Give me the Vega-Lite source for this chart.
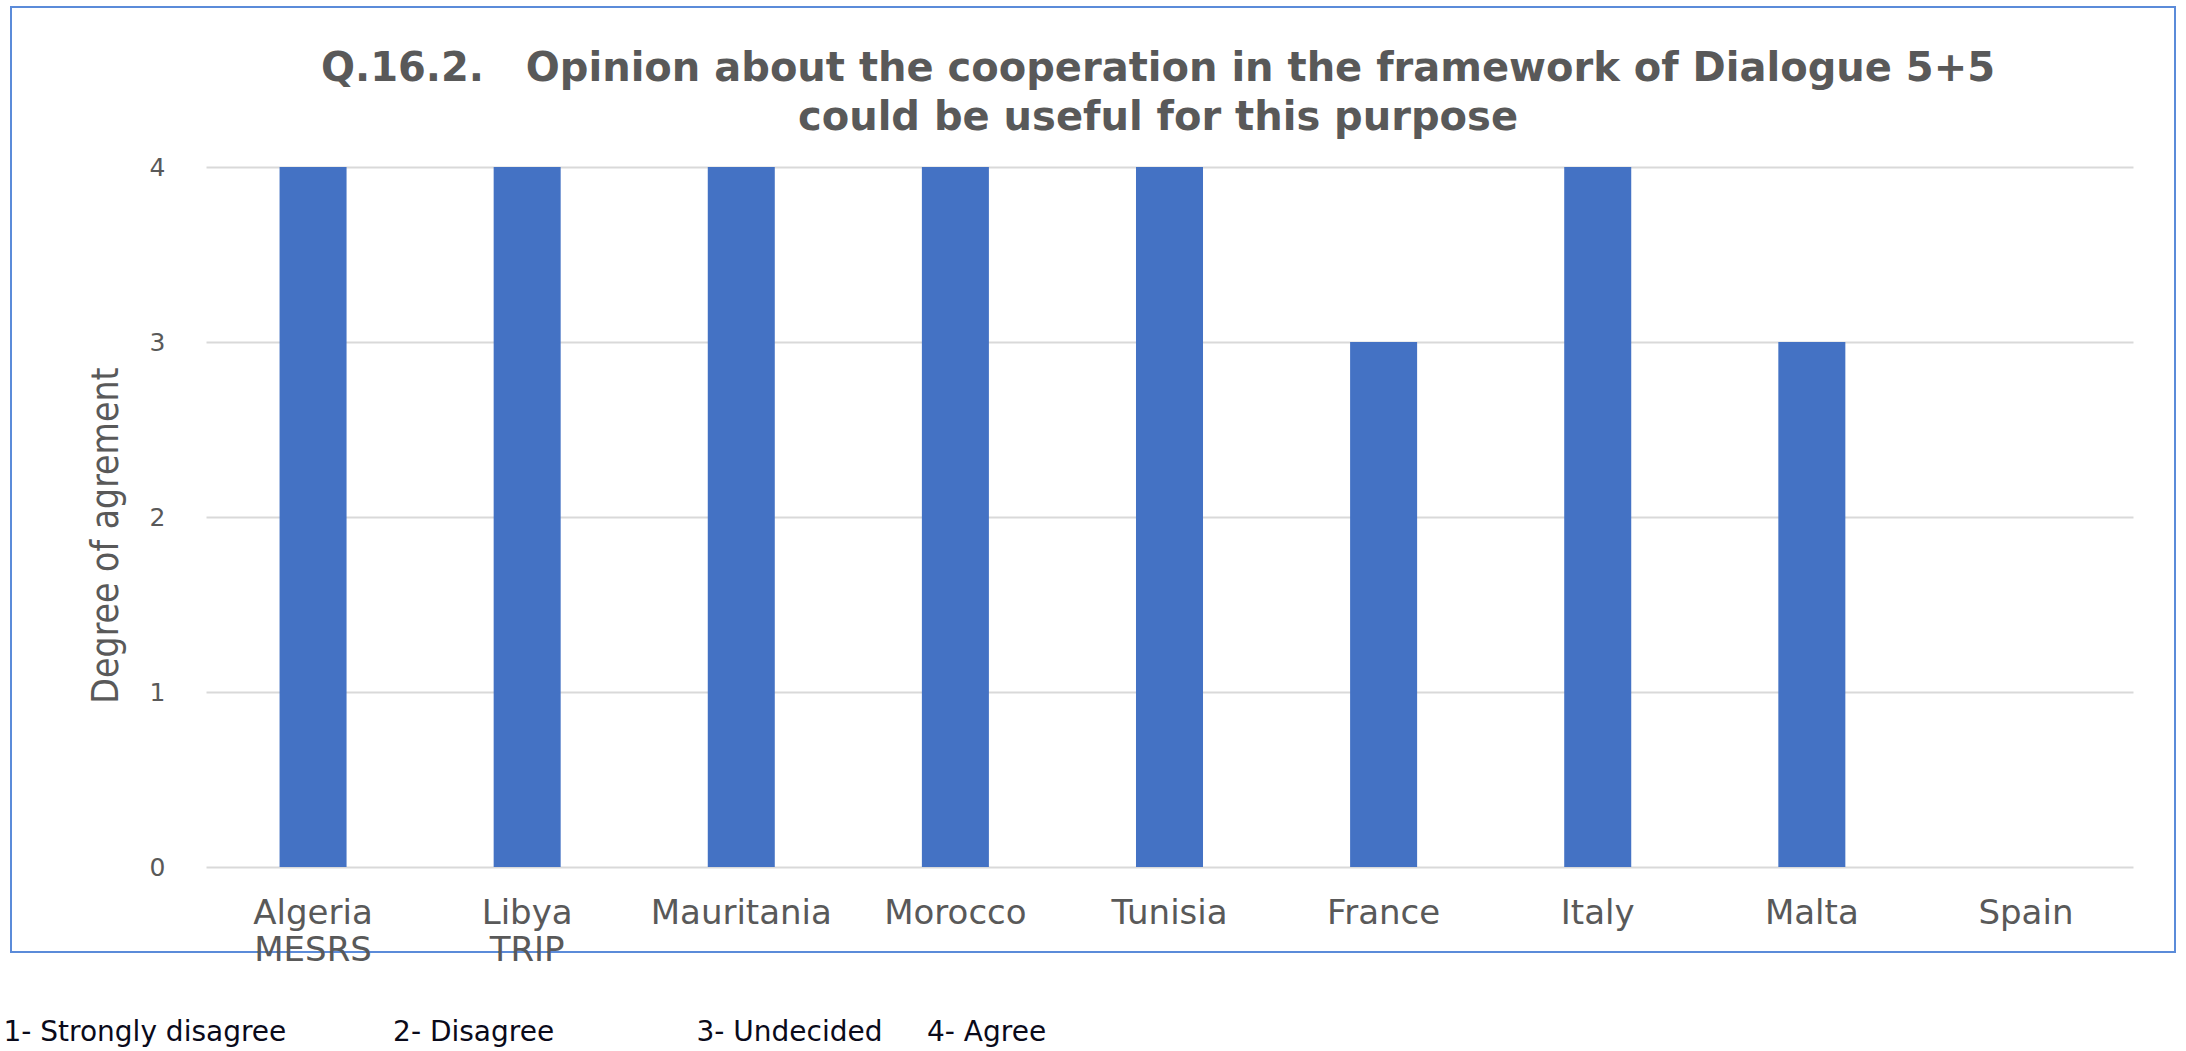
{
  "$schema": "https://vega.github.io/schema/vega-lite/v6.json",
  "width": 2164,
  "height": 945,
  "autosize": "none",
  "padding": {"left": 11, "top": 7, "right": 11, "bottom": 99},
  "background": "white",
  "title": {
    "text": ["Q.16.2.\u00a0\u00a0\u00a0Opinion about the cooperation in the framework of Dialogue 5+5", "could be useful for this purpose"],
    "font": "DejaVu Sans",
    "fontSize": 40,
    "fontWeight": "bold",
    "color": "#595959",
    "anchor": "middle",
    "frame": "group",
    "offset": -131,
    "dx": 65,
    "lineHeight": 49
  },
  "data": {
    "values": [
      {"country": "Algeria\nMESRS", "agreement": 4},
      {"country": "Libya\nTRIP", "agreement": 4},
      {"country": "Mauritania", "agreement": 4},
      {"country": "Morocco", "agreement": 4},
      {"country": "Tunisia", "agreement": 4},
      {"country": "France", "agreement": 3},
      {"country": "Italy", "agreement": 4},
      {"country": "Malta", "agreement": 3},
      {"country": "Spain", "agreement": null}
    ]
  },
  "mark": {"type": "bar", "color": "#4472C4"},
  "encoding": {
    "x": {
      "field": "country",
      "type": "nominal",
      "sort": null,
      "scale": {
        "domain": ["Algeria\nMESRS", "Libya\nTRIP", "Mauritania", "Morocco", "Tunisia", "France", "Italy", "Malta", "Spain"],
        "range": [195, 2122],
        "paddingInner": 0.687,
        "paddingOuter": 0.3435
      },
      "axis": {
        "orient": "bottom",
        "offset": -85,
        "domain": false,
        "ticks": false,
        "tickSize": 0,
        "grid": false,
        "labelAngle": 0,
        "labelLimit": 0,
        "labelOverlap": false,
        "labelExpr": "split(datum.label, '\\n')",
        "labelFont": "DejaVu Sans",
        "labelFontSize": 34,
        "labelColor": "#595959",
        "labelPadding": 29,
        "labelLineHeight": 37,
        "labelBaseline": "top",
        "title": "1- Strongly disagree\u00a0\u00a0\u00a0\u00a0\u00a0\u00a0\u00a0\u00a0\u00a0\u00a0\u00a0\u00a02- Disagree\u00a0\u00a0\u00a0\u00a0\u00a0\u00a0\u00a0\u00a0\u00a0\u00a0\u00a0\u00a0\u00a0\u00a0\u00a0\u00a03- Undecided\u00a0\u00a0\u00a0\u00a0\u00a04- Agree",
        "titleFont": "DejaVu Sans",
        "titleFontSize": 28,
        "titleFontWeight": "normal",
        "titleColor": "#0a0a1a",
        "titleAlign": "left",
        "titleBaseline": "middle",
        "titleX": -8,
        "titleY": 165
      }
    },
    "y": {
      "field": "agreement",
      "type": "quantitative",
      "scale": {"domain": [0, 4], "range": [860, 160], "nice": false, "zero": true},
      "axis": {
        "values": [0, 1, 2, 3, 4],
        "offset": -170,
        "domain": false,
        "ticks": false,
        "tickSize": 0,
        "grid": true,
        "gridColor": "#d9d9d9",
        "gridWidth": 2,
        "labelFont": "DejaVu Sans",
        "labelFontSize": 25,
        "labelColor": "#595959",
        "labelPadding": 16,
        "title": "Degree of agrement",
        "titleFont": "DejaVu Sans Condensed",
        "titleFontSize": 37,
        "titleFontWeight": "normal",
        "titleColor": "#595959",
        "titlePadding": 24,
        "titleY": 528
      }
    }
  },
  "config": {
    "view": {"stroke": "#5b8bd9", "strokeWidth": 2}
  }
}
